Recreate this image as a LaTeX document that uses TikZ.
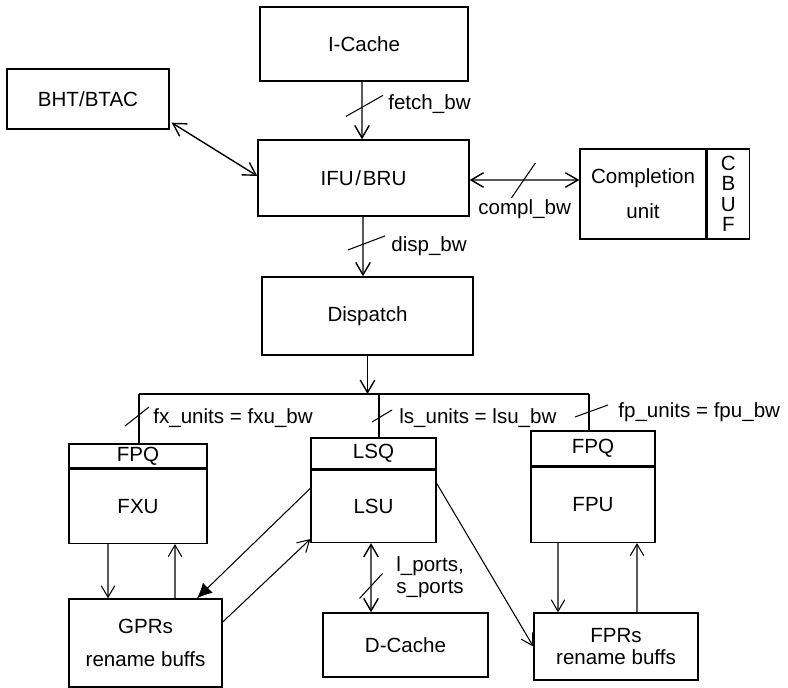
\documentclass[tikz,border=0pt]{standalone}
\usepackage{fontspec}
\setmainfont{Liberation Sans}
\usetikzlibrary{arrows.meta,positioning}
\tikzset{
  blockbox/.style={draw, line width=0.8pt, inner sep=0pt, align=center},
  arrow/.style={-{Straight Barb[length=2.5mm,width=2.9mm]}, line width=0.8pt},
  dblarrow/.style={{Straight Barb[length=2.5mm,width=2.9mm]}-{Straight Barb[length=2.5mm,width=2.9mm]}, line width=0.8pt},
  thinarrow/.style={-{Straight Barb[length=2.3mm,width=2.7mm]}, line width=0.6pt},
  fatarrow/.style={-{Latex[length=3mm,width=2.8mm]}, line width=0.6pt},
  busline/.style={line width=0.8pt},
  slash/.style={line width=0.6pt},
  bwlabel/.style={anchor=west, inner sep=0pt, align=left}
}

\begin{document}
\begin{tikzpicture}[x=0.02cm, y=-0.02cm, font=\fontsize{11.7}{14}\selectfont]
  \useasboundingbox (0,0) rectangle (788,688);

  \node[blockbox, minimum width=4.16cm, minimum height=1.48cm] (icache) at (364,44) {I-Cache};
  \node[blockbox, minimum width=3.24cm, minimum height=1.2cm] (bht) at (88,99) {BHT/BTAC};
  \node[blockbox, minimum width=4.22cm, minimum height=1.52cm] (ifu) at (363.5,178) {IFU\kern1pt/\kern1pt BRU};
  \node[blockbox, minimum width=2.52cm, minimum height=1.8cm] (compl) at (643,194) {Completion\\[6pt]unit};
  \node[blockbox, minimum width=0.84cm, minimum height=1.8cm, font=\fontsize{11.7}{11.6}\selectfont,
    right=0pt of compl] (cbuf) {C\\B\\U\\F};
  \node[blockbox, minimum width=4.22cm, minimum height=1.56cm] (disp) at (367.5,316) {Dispatch};

  \node[blockbox, minimum width=2.76cm, minimum height=0.48cm] (fpqx) at (138,456) {FPQ};
  \node[blockbox, minimum width=2.76cm, minimum height=1.48cm, below=0pt of fpqx] (fxu) {FXU};
  \node[blockbox, minimum width=2.5cm, minimum height=0.62cm] (lsq) at (373.5,453.5) {LSQ};
  \node[blockbox, minimum width=2.5cm, minimum height=1.44cm, below=0pt of lsq] (lsu) {LSU};
  \node[blockbox, minimum width=2.48cm, minimum height=0.7cm] (fpqf) at (593,448.5) {FPQ};
  \node[blockbox, minimum width=2.48cm, minimum height=1.5cm, below=0pt of fpqf] (fpu) {FPU};

  \node[blockbox, minimum width=3.06cm, minimum height=1.76cm] (gpr) at (145.5,643) {GPRs\\[4.7pt]rename buffs};
  \node[blockbox, minimum width=3.3cm, minimum height=1.28cm] (dcache) at (405.5,645) {D-Cache};
  \node[blockbox, minimum width=3.28cm, minimum height=1.34cm, font=\fontsize{11.7}{13}\selectfont]
    (fpr) at (616,646.5) {FPRs\\rename buffs};

  % fetch, completion and dispatch paths
  \draw[arrow] ([xshift=-0.04cm]icache.south) -- coordinate[pos=0.42] (fetchmid) ([xshift=-0.03cm]ifu.north);
  \draw[slash] (fetchmid) +(-16,10.5) -- +(21,-10.5);
  \node[bwlabel] (fetchlbl) at (388,104) {fetch\_bw};

  \draw[dblarrow] ([xshift=0.04cm,yshift=0.14cm]bht.south east) -- ([yshift=0.04cm]ifu.west);

  \draw[dblarrow] ([yshift=-0.04cm]ifu.east) -- coordinate[pos=0.49] (complmid) ([yshift=0.28cm]compl.west);
  \draw[slash] (complmid) +(-12,18) -- +(12,-17);
  \node[bwlabel] (compllbl) at (478,209) {compl\_bw};

  \draw[arrow] ([xshift=-0.01cm]ifu.south) -- coordinate[pos=0.44] (dispmid) ([xshift=-0.09cm]disp.north);
  \draw[slash] (dispmid) +(-15,7) -- +(22,-7);
  \node[bwlabel] (displbl) at (391,246) {disp\_bw};

  % issue bus
  \coordinate (busl) at (139,394);
  \coordinate (busm) at (379,394);
  \coordinate (busr) at (589,394);
  \draw[arrow] (disp.south) -- (disp.south |- busm);
  \draw[busline] (busl) -- (busr);
  \foreach \c/\n in {busl/fpqx,busm/lsq,busr/fpqf}
    \draw[busline] (\c) -- (\c |- \n.north);
  \draw[slash] ([shift={(-14,32)}]busl) -- ([shift={(10,13)}]busl);
  \draw[slash] ([shift={(-7,28)}]busm) -- ([shift={(13,16)}]busm);
  \draw[slash] ([shift={(-14,23)}]busr) -- ([shift={(19,11)}]busr);
  \node[bwlabel] (fxlbl) at (153,418) {fx\_units = fxu\_bw};
  \node[bwlabel] (lslbl) at (399,418) {ls\_units = lsu\_bw};
  \node[bwlabel] (fplbl) at (618,412) {fp\_units = fpu\_bw};

  % register files and data cache
  \draw[thinarrow] ([xshift=-0.6cm]fxu.south) -- ([xshift=-0.75cm]gpr.north);
  \draw[thinarrow] ([xshift=0.59cm]gpr.north) -- ([xshift=0.74cm]fxu.south);
  \draw[thinarrow] ([xshift=-0.7cm]fpu.south) -- ([xshift=-1.16cm]fpr.north);
  \draw[thinarrow] ([xshift=0.42cm]fpr.north) -- ([xshift=0.88cm]fpu.south);
  \draw[fatarrow] ([yshift=0.36cm]lsu.west) -- ([xshift=1.03cm]gpr.north);
  \draw[thinarrow] ([yshift=0.42cm]gpr.east) -- ([yshift=0.08cm]lsu.south west);
  \draw[thinarrow] ([yshift=0.46cm]lsu.east) -- (fpr.west);

  \draw[dblarrow] ([xshift=-0.05cm]lsu.south) -- coordinate[pos=0.62] (portmid) ([xshift=-0.69cm]dcache.north);
  \draw[slash] (portmid) +(-11.5,12.5) -- +(11.5,-12.5);
  \node[bwlabel, font=\fontsize{11.7}{12.5}\selectfont] (portlbl) at (396,577) {l\_ports,\\s\_ports};
\end{tikzpicture}
\end{document}
